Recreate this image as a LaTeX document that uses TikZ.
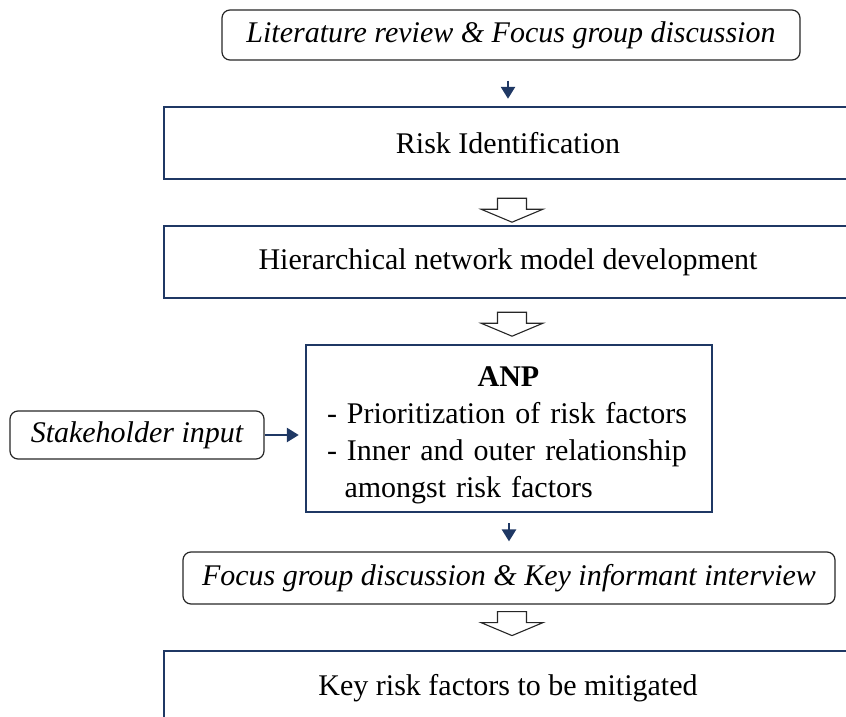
\documentclass[tikz,border=0pt]{standalone}
\usepackage{fontspec}
\setmainfont{Liberation Serif}
\usetikzlibrary{arrows.meta}
\definecolor{navy}{HTML}{1F3864}
\begin{document}
\begin{tikzpicture}[x=1pt,y=-1pt,
  font=\fontsize{30}{37}\selectfont,
  navybox/.style={draw=navy, line width=2.4pt, rectangle, inner sep=0pt},
  roundbox/.style={draw=black!85, line width=1.2pt, rounded corners=8pt, inner sep=0pt,
    font=\fontsize{30}{37}\selectfont\itshape},
  smallarrow/.style={draw=navy, line width=2.6pt, -{Triangle[length=12pt,width=14pt]}},
  hollow/.pic={\draw[line width=1.1pt, draw=black!85, fill=white]
    (-14.5,0) -- (14.5,0) -- (14.5,11) -- (31,11) -- (0,24) -- (-31,11) -- (-14.5,11) -- cycle;}]
\useasboundingbox (0,0) rectangle (846,717);
\clip (0,0) rectangle (846,717);

\node[roundbox, minimum width=578pt, minimum height=50pt] (lit) at (511,35)
  {Literature review \& Focus group discussion};
\node[navybox, minimum width=688pt, minimum height=72pt] (risk) at (508,143)
  {Risk Identification};
\node[navybox, minimum width=688pt, minimum height=72pt] (hier) at (508,262)
  {Hierarchical network model development};
\node[navybox, minimum width=406pt, minimum height=167pt] (anp) at (509,428.5) {};
\node[anchor=north, inner sep=0pt, text width=363pt, align=left] (anptext) at (508.5,366)
  {\makebox[363pt][c]{\textbf{ANP}}\\
   - Prioritization of risk factors\\
   \makebox[363pt][s]{- Inner and outer relationship}\\
   \hspace*{17.5pt}amongst risk factors};
\node[roundbox, minimum width=254pt, minimum height=48pt] (stake) at (137,435)
  {Stakeholder input};
\node[roundbox, minimum width=652pt, minimum height=52pt] (focus) at (509,578)
  {Focus group discussion \& Key informant interview};
\node[navybox, minimum width=688pt, minimum height=74pt] (key) at (508,688)
  {Key risk factors to be mitigated};

\draw[smallarrow, shorten <=20pt, shorten >=7pt] (lit.south -| risk.north) -- (risk.north);
\draw[smallarrow, shorten <=10pt, shorten >=10pt] (anp.south) -- (anp.south |- focus.north);
\draw[smallarrow, shorten >=6pt] (stake.east) -- (stake.east -| anp.west);

\path (risk.south) ++(4,18) pic {hollow};
\path (hier.south) ++(4,13) pic {hollow};
\path (focus.south) ++(3,7) pic {hollow};
\end{tikzpicture}
\end{document}
